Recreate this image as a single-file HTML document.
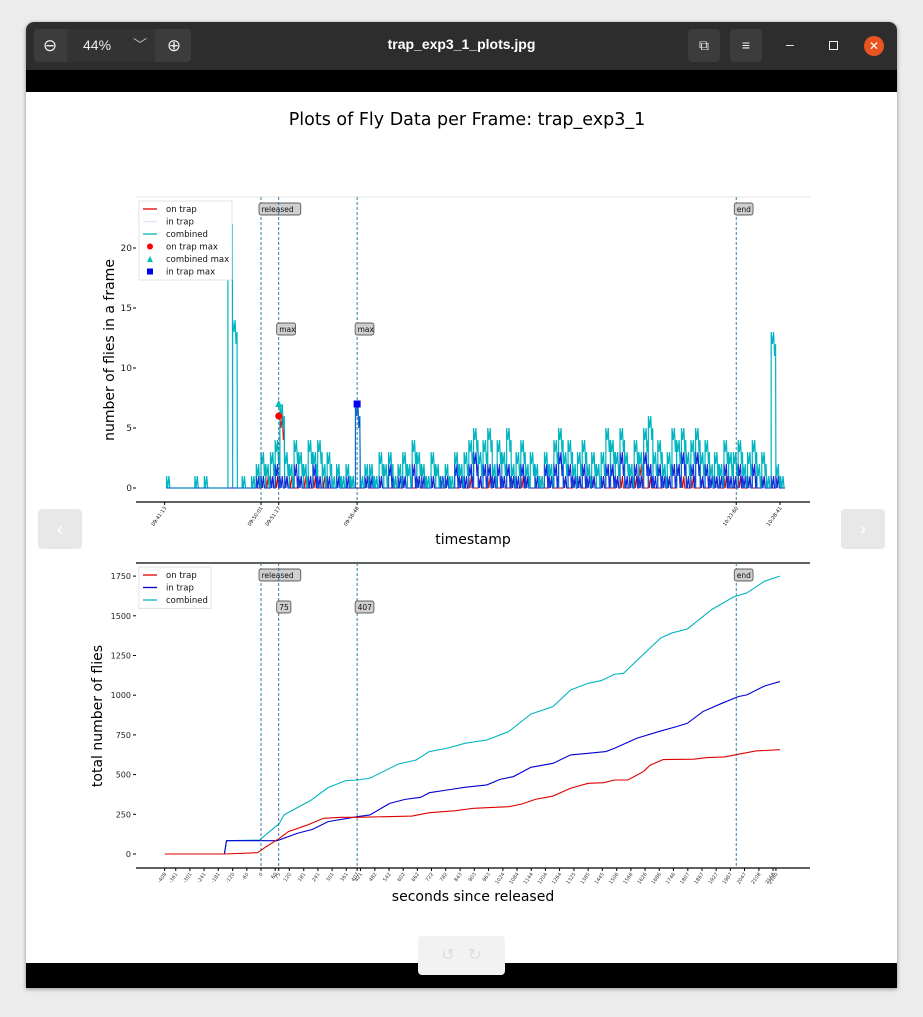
<!DOCTYPE html>
<html><head><meta charset="utf-8"><style>
body{margin:0;width:923px;height:1017px;background:#ececec;position:relative;overflow:hidden;font-family:"Liberation Sans","DejaVu Sans",sans-serif}
.abs{position:absolute}
#win{left:26px;top:22px;width:871px;height:966px;background:#fff;border-radius:8px 8px 0 0;overflow:hidden;box-shadow:0 1px 4px rgba(0,0,0,.4)}
#bar{left:0;top:0;width:871px;height:48px;background:#2d2d2d}
.btn{background:#3c3c3c;border-radius:4px;color:#eee;text-align:center}
svg text{font-family:"DejaVu Sans","Liberation Sans",sans-serif}
</style></head><body>
<div id="win" class="abs">
 <div id="bar" class="abs">
  <div class="abs btn" style="left:8px;top:7px;width:157px;height:33px"></div>
  <div class="abs" style="left:8px;top:7px;width:32px;height:33px;line-height:33px;color:#eee;text-align:center;font-size:17px">⊖</div>
  <div class="abs" style="left:41px;top:7px;width:88px;height:33px;background:#333;line-height:33px;color:#eee;font-size:14px"><span style="margin-left:16px">44%</span><span style="margin-left:22px;color:#bbb">﹀</span></div>
  <div class="abs" style="left:132px;top:7px;width:32px;height:33px;line-height:33px;color:#eee;text-align:center;font-size:17px">⊕</div>
  <div class="abs" style="left:0;top:14px;width:871px;text-align:center;color:#fff;font-weight:bold;font-size:14px">trap_exp3_1_plots.jpg</div>
  <div class="abs btn" style="left:662px;top:7px;width:32px;height:33px;line-height:33px;font-size:14px">⧉</div>
  <div class="abs btn" style="left:704px;top:7px;width:32px;height:33px;line-height:33px;font-size:14px">≡</div>
  <div class="abs" style="left:760px;top:14px;color:#eee;font-size:14px">–</div>
  <div class="abs" style="left:803px;top:19px;width:7px;height:7px;border:1.5px solid #eee"></div>
  <div class="abs" style="left:838px;top:14px;width:20px;height:20px;border-radius:50%;background:#e95420;color:#fff;text-align:center;line-height:20px;font-size:12px">✕</div>
 </div>
 <div class="abs" style="left:0;top:48px;width:871px;height:22px;background:#000"></div>
 <div class="abs" style="left:0;top:941px;width:871px;height:25px;background:#000"></div>
</div>
<svg class="abs" style="left:0;top:0" width="923" height="1017" id="chart">
 <text x="467" y="125" font-size="17.5" text-anchor="middle" fill="#000">Plots of Fly Data per Frame: trap_exp3_1</text>
 <g id="top"></g>
 <g id="bot"></g>
</svg>
<div class="abs" style="left:38px;top:509px;width:44px;height:40px;background:#e8e8e8;border-radius:4px;color:#fff;text-align:center;line-height:40px;font-size:18px">‹</div>
<div class="abs" style="left:841px;top:509px;width:44px;height:40px;background:#e8e8e8;border-radius:4px;color:#fff;text-align:center;line-height:40px;font-size:18px">›</div>
<div class="abs" style="left:418px;top:936px;width:87px;height:39px;background:#f2f2f2;border-radius:4px;color:#ddd;font-size:16px;line-height:39px;text-align:center">↺ &nbsp; ↻</div>
<script>
// ---- per-frame data (bins of 20 s starting at -400 s) ----
const binStart = -400;
const binWidth = 20;
const combinedPerFrame = [1,0,0,0,0,0,1,0,1,0,0,0,0,23,14,0,1,0,1,2,3,2,3,4,7,3,2,4,3,2,4,3,4,2,3,1,2,1,2,1,7,1,2,2,1,3,2,3,1,2,3,2,4,3,2,1,3,2,1,2,1,3,2,3,4,5,3,4,5,2,4,3,5,2,3,4,2,3,2,1,3,2,4,5,3,4,2,3,4,2,3,2,3,5,4,3,5,3,2,4,3,5,6,3,4,2,3,5,4,5,3,4,5,3,4,2,3,2,4,3,3,4,2,3,4,2,3,1,13,2,1];
const inTrapPerFrame = [0,0,0,0,0,0,0,0,0,0,0,0,0,0,0,0,0,0,0,1,1,0,1,2,1,1,0,2,1,0,1,2,1,0,1,0,1,0,1,0,7,0,1,1,0,1,0,2,0,1,1,0,2,1,1,0,1,0,1,1,0,2,1,1,2,3,1,2,2,1,2,1,2,1,1,2,1,0,1,0,2,1,2,3,1,2,1,1,2,1,1,0,1,2,2,1,3,1,1,2,1,3,2,1,2,1,1,2,2,3,1,2,3,1,2,1,1,1,2,1,1,2,1,1,2,0,1,0,1,1,0];
const onTrapPerFrame = [0,0,0,0,0,0,0,0,0,0,0,0,0,0,0,0,0,0,0,0,1,1,1,1,6,1,1,0,1,1,0,1,0,1,0,0,1,0,0,1,0,0,1,0,0,1,0,0,1,0,1,0,0,1,0,0,1,0,0,1,0,0,1,0,1,0,1,0,1,1,0,1,0,1,0,1,1,0,0,1,0,1,0,0,1,0,1,1,0,2,1,0,1,0,0,1,1,0,1,1,2,0,1,0,0,1,1,0,2,1,0,1,0,1,0,1,1,0,1,0,0,1,0,1,0,0,1,0,0,1,0];
const perFrameYTicks = [0,5,10,15,20];
const timestampTicks = [[-408,"09:41:13"],[0,"09:50:01"],[75,"09:51:17"],[407,"09:56:48"],[2012,"10:23:60"],[2197,"10:28:41"]];
// ---- cumulative data ----
const combinedT = [-407,-155,-146,-6,78,97,209,284,358,407,461,582,657,713,788,863,956,1049,1143,1236,1311,1385,1441,1497,1535,1609,1693,1740,1805,1908,2001,2057,2132,2197];
const combinedV = [0,0,84,88,193,246,336,418,462,466,477,567,592,645,666,697,718,771,882,928,1033,1075,1092,1132,1138,1243,1361,1392,1417,1539,1619,1644,1718,1750];
const inTrapT = [-407,-155,-146,69,153,218,284,407,461,545,610,676,713,788,863,956,1012,1068,1143,1236,1311,1385,1460,1497,1591,1684,1759,1805,1871,1945,2020,2057,2132,2197];
const inTrapV = [0,0,84,84,130,155,204,235,246,319,344,357,386,403,420,435,470,487,546,571,624,634,645,666,729,771,802,823,897,945,991,1002,1058,1086];
const onTrapT = [-407,-155,-15,22,78,116,190,265,340,407,639,713,825,900,1049,1105,1161,1236,1311,1385,1451,1497,1553,1619,1647,1703,1833,1889,1964,2020,2095,2197];
const onTrapV = [0,0,8,46,99,141,179,225,231,231,239,260,273,288,298,315,344,365,414,445,449,466,466,519,559,595,597,607,611,628,649,657];
const cumYTicks = [0,250,500,750,1000,1250,1500,1750];
const secondsTicks = [-408,-361,-301,-241,-181,-120,-60,0,60,75,120,181,241,301,361,407,421,482,542,602,662,722,782,843,903,963,1024,1084,1144,1204,1264,1325,1385,1445,1506,1566,1626,1686,1746,1807,1867,1927,1987,2047,2108,2168,2180];
const markers = [[0,"released"],[75,"max"],[407,"max"],[2012,"end"]];
const cumMarkers = [[0,"released"],[75,"75"],[407,"407"],[2012,"end"]];

const NS="http://www.w3.org/2000/svg";
function mk(tag,attrs,parent,txt){const e=document.createElementNS(NS,tag);for(const k in attrs)e.setAttribute(k,attrs[k]);if(txt!==undefined)e.textContent=txt;parent.appendChild(e);return e;}
const xs = s => 261 + s*0.2362;
const yTop = v => 488 - v*12;
const yBot = v => 854 - v*0.1588;

// ===== top chart =====
const T=document.getElementById('top');
let e;
e=mk('line',{x1:136,y1:197,x2:810,y2:197,stroke:'#e6e6e6','stroke-width':1},T);


e=mk('line',{x1:136,y1:502,x2:810,y2:502,stroke:'#000','stroke-width':1.2},T);


perFrameYTicks.forEach(v=>{
 e=mk('text',{x:132,y:yTop(v)+3,'font-size':9,'text-anchor':'end',fill:'#222'},T,String(v));
 
 
 mk('line',{x1:133,x2:136,y1:yTop(v),y2:yTop(v),stroke:'#000'},T);
});
e=mk('text',{x:0,y:0,'font-size':14,'text-anchor':'middle',transform:'translate(114,350) rotate(-90)'},T,'number of flies in a frame');


e=mk('text',{x:473,y:544,'font-size':14,'text-anchor':'middle'},T,'timestamp');


timestampTicks.forEach(([s,l])=>{
 const x=xs(s);
 mk('line',{x1:x,x2:x,y1:502,y2:505,stroke:'#000'},T);
 e=mk('text',{x:0,y:0,'font-size':5,'text-anchor':'end',transform:`translate(${x+2},508) rotate(-55)`},T,l);
 
 
});
function series(arr,color,name,w){
 let pts=[];
 arr.forEach((v,i)=>{const x=xs(binStart+i*binWidth);pts.push(x+','+yTop(0));pts.push(x+','+yTop(v));pts.push((x+1.2)+','+yTop(Math.max(0,v-1)));pts.push((x+2.4)+','+yTop(v));pts.push((x+3.4)+','+yTop(Math.max(0,v-2)));pts.push((x+4.4)+','+yTop(Math.max(0,v-1)));});
 e=mk('polyline',{points:pts.join(' '),fill:'none',stroke:color,'stroke-width':w},T);
 
 
}
series(onTrapPerFrame,'#e00000','on-trap-line',1);
series(inTrapPerFrame,'#0000e0','in-trap-line',1.1);
series(combinedPerFrame,'#00b5c0','combined-line',1.2);
series(inTrapPerFrame,'#1a3ad8','in-trap-overlay',0.6);
function vlines(G,ms,ytop,ybot,y1,y2){
 ms.forEach(([s,l],i)=>{
  const x=xs(s);
  e=mk('line',{x1:x,x2:x,y1:ytop,y2:ybot,stroke:'#1f6fa0','stroke-width':0.9,'stroke-dasharray':'3,2'},G);
  
  
  const yy=(i===1||i===2)?y2:y1;
  const w=l.length*4.6+5;
  e=mk('rect',{x:x-2,y:yy-9,width:w,height:12,rx:2,fill:'#cfcfcf',stroke:'#333','stroke-width':0.7},G);
  
  
  e=mk('text',{x:x+0.5,y:yy,'font-size':7.5,fill:'#111'},G,l);
  
  
 });
}
vlines(T,markers,197,502,212,332);
e=mk('circle',{cx:xs(75),cy:yTop(onTrapPerFrame[24]),r:3.5,fill:'#f00'},T);


e=mk('polygon',{points:`${xs(75)-3.5},${yTop(7)+3} ${xs(75)+3.5},${yTop(7)+3} ${xs(75)},${yTop(7)-4}`,fill:'#00bfbf'},T);


e=mk('rect',{x:xs(407)-3.5,y:yTop(inTrapPerFrame[40])-3.5,width:7,height:7,fill:'#0000ee'},T);


function legend(G,x,y,items){
 e=mk('rect',{x:x,y:y,width:items.w,height:items.length*12.5+4,fill:'#fff',stroke:'#ddd','stroke-width':0.8},G);
 
 
 items.forEach(([t,c,k],i)=>{
  const yy=y+8+i*12.5;
  if(k==='l')mk('line',{x1:x+4,x2:x+18,y1:yy,y2:yy,stroke:c,'stroke-width':1.3},G);
  if(k==='o')mk('circle',{cx:x+11,cy:yy,r:3,fill:c},G);
  if(k==='t')mk('polygon',{points:`${x+8},${yy+3} ${x+14},${yy+3} ${x+11},${yy-3}`,fill:c},G);
  if(k==='s')mk('rect',{x:x+8,y:yy-3,width:6,height:6,fill:c},G);
  e=mk('text',{x:x+27,y:yy+3,'font-size':8.5,fill:'#111'},G,t);
  
  
 });
}
const lt=[['on trap','#e00000','l'],['in trap','#dfe4ff','l'],['combined','#00b5c0','l'],['on trap max','#f00','o'],['combined max','#00bfbf','t'],['in trap max','#0000ee','s']];lt.w=93;
legend(T,139,201,lt);

// ===== bottom chart =====
const B=document.getElementById('bot');
e=mk('line',{x1:136,y1:563,x2:810,y2:563,stroke:'#000','stroke-width':1.2},B);


e=mk('line',{x1:136,y1:868,x2:810,y2:868,stroke:'#000','stroke-width':1.2},B);


cumYTicks.forEach(v=>{
 e=mk('text',{x:131,y:yBot(v)+3,'font-size':8,'text-anchor':'end',fill:'#222'},B,String(v));
 
 
 mk('line',{x1:133,x2:136,y1:yBot(v),y2:yBot(v),stroke:'#000'},B);
});
e=mk('text',{x:0,y:0,'font-size':14,'text-anchor':'middle',transform:'translate(102,716) rotate(-90)'},B,'total number of flies');


e=mk('text',{x:473,y:901,'font-size':14,'text-anchor':'middle'},B,'seconds since released');


secondsTicks.forEach(s=>{
 const x=xs(s);
 mk('line',{x1:x,x2:x,y1:868,y2:871,stroke:'#000'},B);
 e=mk('text',{x:0,y:0,'font-size':5,'text-anchor':'end',fill:'#333',transform:`translate(${x+2},874) rotate(-55)`},B,String(s));
 
 
});
function cum(ts,vs,c,name){
 e=mk('polyline',{points:ts.map((t,i)=>xs(t)+','+yBot(vs[i])).join(' '),fill:'none',stroke:c,'stroke-width':1.1},B);
 
 
}
cum(combinedT,combinedV,'#00b5c0','combined-cumulative-line');
cum(inTrapT,inTrapV,'#0000d0','in-trap-cumulative-line');
cum(onTrapT,onTrapV,'#e00000','on-trap-cumulative-line');
vlines(B,cumMarkers,563,868,578,610);
const lb=[['on trap','#e00000','l'],['in trap','#0000d0','l'],['combined','#00b5c0','l']];lb.w=72;
legend(B,139,567,lb);
</script>
</body></html>
